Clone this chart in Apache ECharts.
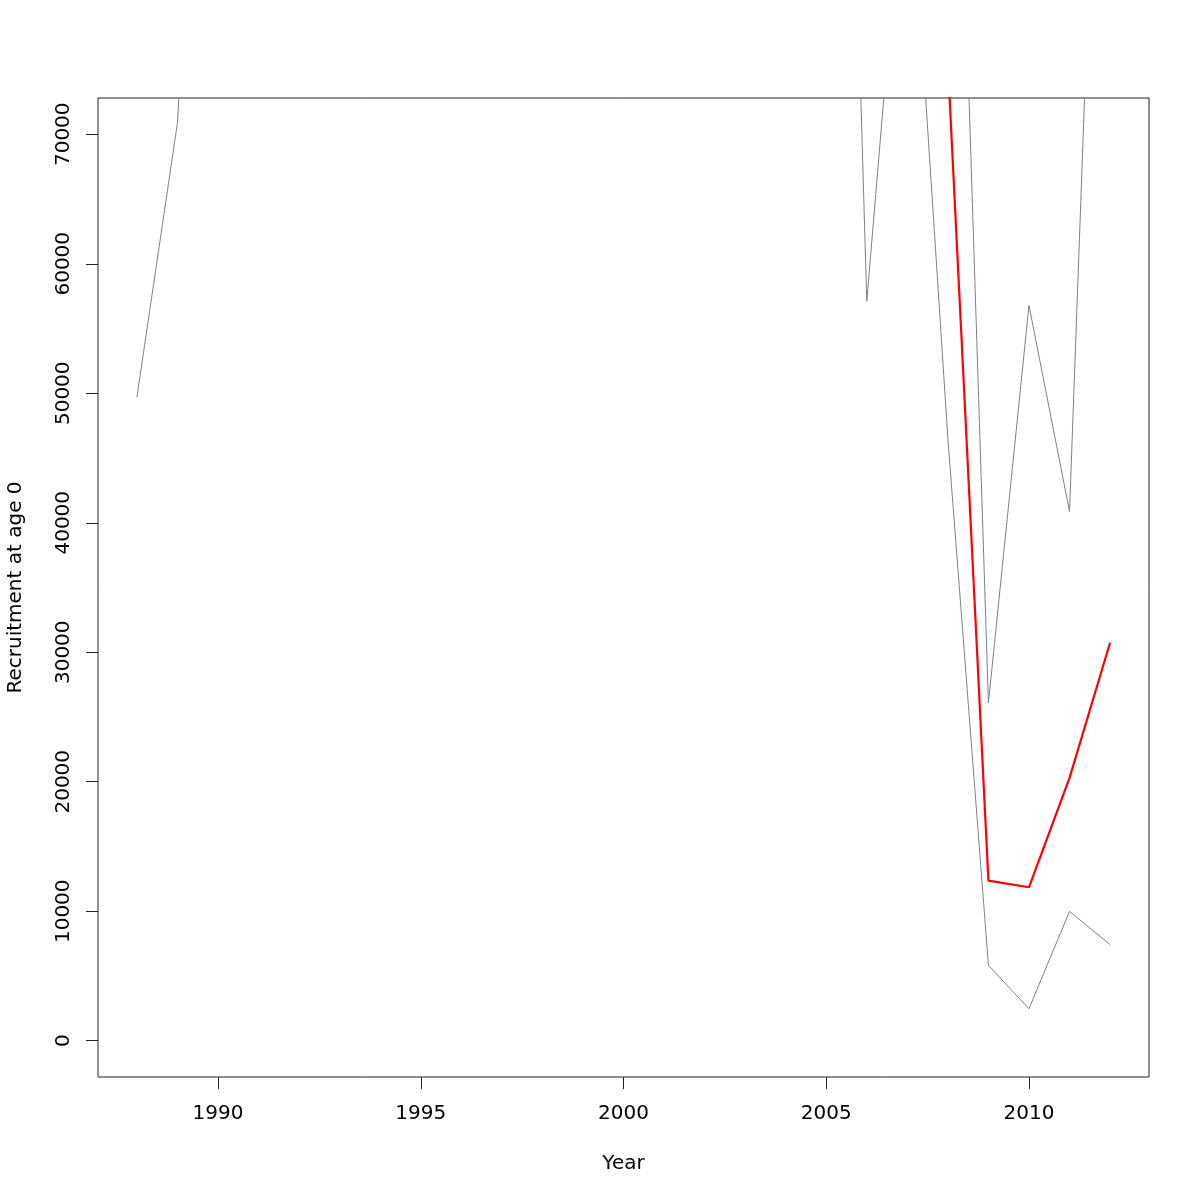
<!DOCTYPE html>
<html><head><meta charset="utf-8">
<script src="https://cdn.jsdelivr.net/npm/echarts@6/dist/echarts.min.js"></script>
<style>html,body{margin:0;padding:0;background:#fff}#c{width:1200px;height:1200px}</style>
</head><body><div id="c"></div>
<script>
const years = [1988,1989,1990,1991,1992,1993,1994,1995,1996,1997,1998,1999,2000,2001,2002,2003,2004,2005,2006,2007,2008,2009,2010,2011,2012];
// central estimate (values before 2008 lie above the visible range)
const estimate = [185000,240000,298000,275000,252000,281000,310000,268000,287000,302000,259000,236000,262000,291000,247000,224000,266000,318000,152000,205000,75500,12360,11850,20300,30730];
const lower = [49700,70900,129000,142000,118000,135000,156000,121000,138000,149000,127000,112000,131000,145000,119000,108000,137000,164000,57100,94500,46500,5820,2470,9990,7420];
const upper = [690000,810000,690000,530000,540000,585000,615000,595000,597000,612000,528000,497000,524000,584000,513000,465000,516000,617000,405000,445000,123600,26090,56790,40870,127000];
const xTicks = [1990,1995,2000,2005,2010];
const yTicks = [0,10000,20000,30000,40000,50000,60000,70000];

const pairs = arr => years.map((y,i)=>[y,arr[i]]);
const font = 'DejaVu Sans';
const chart = echarts.init(document.getElementById('c'), null, {renderer:'canvas'});
chart.setOption({
  animation:false,
  backgroundColor:'#fff',
  grid:{left:98,right:51,top:98,bottom:123,show:true,borderColor:'#222',borderWidth:1,backgroundColor:'transparent',outerBoundsMode:'none',containLabel:false},
  xAxis:{type:'value',min:1987.04,max:2012.96,
    axisLine:{show:false,onZero:false},
    axisTick:{show:true,length:12,inside:false,customValues:xTicks,lineStyle:{color:'#222',width:1}},
    axisLabel:{customValues:xTicks,margin:27,fontSize:20,color:'#000',fontFamily:font,formatter:v=>String(v)},
    splitLine:{show:false},
    name:'Year',nameLocation:'middle',nameGap:77,
    nameTextStyle:{fontSize:20,color:'#000',fontFamily:font}},
  yAxis:{type:'value',min:-2800,max:72800,
    axisLine:{show:false,onZero:false},
    axisTick:{show:true,length:12,inside:false,customValues:yTicks,lineStyle:{color:'#222',width:1}},
    axisLabel:{customValues:yTicks,rotate:90,margin:24,fontSize:20,color:'#000',fontFamily:font,formatter:v=>String(v)},
    splitLine:{show:false},
    name:'Recruitment at age 0',nameLocation:'middle',nameGap:72,
    nameTextStyle:{fontSize:20,color:'#000',fontFamily:font}},
  series:[
    {type:'line',data:pairs(lower),symbol:'none',clip:true,lineStyle:{color:'#808080',width:1}},
    {type:'line',data:pairs(upper),symbol:'none',clip:true,lineStyle:{color:'#808080',width:1}},
    {type:'line',data:pairs(estimate),symbol:'none',clip:true,lineStyle:{color:'#ff0000',width:2.2}}
  ]
});
</script>
</body></html>
